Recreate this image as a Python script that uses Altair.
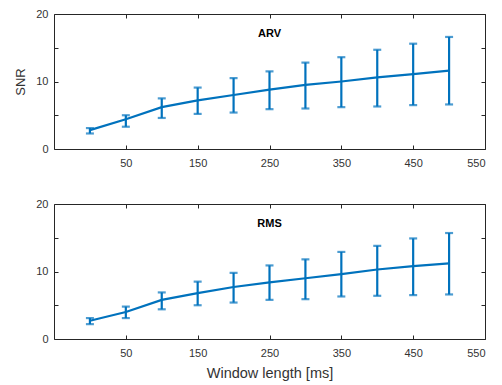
import altair as alt
import pandas as pd

# ---- data ----
window_ms = [0, 50, 100, 150, 200, 250, 300, 350, 400, 450, 500]
arv_mean = [2.8, 4.4, 6.2, 7.2, 8.0, 8.8, 9.5, 10.0, 10.6, 11.1, 11.6]
arv_low = [2.3, 3.3, 4.6, 5.2, 5.4, 5.9, 6.0, 6.2, 6.3, 6.5, 6.6]
arv_high = [3.1, 5.0, 7.5, 9.1, 10.5, 11.5, 12.8, 13.6, 14.7, 15.6, 16.6]
rms_mean = [2.7, 4.0, 5.8, 6.8, 7.7, 8.4, 9.0, 9.6, 10.3, 10.8, 11.2]
rms_low = [2.2, 3.1, 4.4, 5.0, 5.4, 5.8, 5.9, 6.3, 6.4, 6.5, 6.6]
rms_high = [3.1, 4.8, 6.9, 8.5, 9.8, 10.9, 11.8, 12.9, 13.8, 14.9, 15.7]
panel_titles = ["ARV", "RMS"]
x_ticks = [50, 150, 250, 350, 450, 550]
y_ticks = [0, 5, 10, 15, 20]
x_domain = [-50, 550]
y_domain = [0, 20]
x_title = "Window length [ms]"
y_title = "SNR"

W, H = 431, 135
BLUE = "#0072BD"
FRAME = "#262626"
TXT = "#333333"
FONT = "Liberation Sans"


def panel(mean, low, high, title, show_xtitle, show_ytitle):
    df = pd.DataFrame({"w": window_ms, "m": mean, "lo": low, "hi": high})
    xs = alt.Scale(domain=x_domain, nice=False, zero=False)
    ys = alt.Scale(domain=y_domain, nice=False, zero=False)
    base = alt.Chart(df)

    # main labelled axes
    x_main = alt.Axis(values=x_ticks, ticks=False, tickSize=0, domain=False, grid=False,
                      labelPadding=8, labelFontSize=11, labelColor=TXT, labelFont=FONT,
                      title=x_title if show_xtitle else None, titleFont=FONT, titleFontSize=14.5,
                      titleFontWeight="normal", titleColor=TXT, titlePadding=8)
    y_main = alt.Axis(values=y_ticks, ticks=False, tickSize=0, domain=False, grid=False,
                      labelExpr="datum.value % 10 == 0 ? datum.label : ''",
                      labelPadding=6, labelFontSize=11, labelColor=TXT, labelFont=FONT,
                      title=y_title if show_ytitle else None, titleFont=FONT, titleFontSize=13,
                      titleFontWeight="normal", titleColor=TXT, titlePadding=8)

    def tick_axis(values, orient, offset):
        return alt.Axis(values=values, orient=orient, offset=offset, labels=False, domain=False,
                        grid=False, ticks=True, tickSize=4, tickColor=FRAME, tickWidth=1, title=None)

    bars = base.mark_rule(color=BLUE, strokeWidth=2.2).encode(
        x=alt.X("w:Q", scale=xs, axis=x_main),
        y=alt.Y("lo:Q", scale=ys, axis=y_main),
        y2="hi:Q",
    )
    line = base.mark_line(color=BLUE, strokeWidth=2.2).encode(
        x=alt.X("w:Q", scale=xs, axis=tick_axis(x_ticks, "top", -H)),
        y=alt.Y("m:Q", scale=ys, axis=tick_axis(y_ticks, "right", -W)),
    )
    cap_lo = base.mark_tick(color=BLUE, orient="horizontal", size=8, thickness=2.2).encode(
        x=alt.X("w:Q", scale=xs, axis=tick_axis(x_ticks, "bottom", -H)),
        y=alt.Y("lo:Q", scale=ys, axis=tick_axis(y_ticks, "left", -W)),
    )
    cap_hi = base.mark_tick(color=BLUE, orient="horizontal", size=8, thickness=2.2).encode(
        x=alt.X("w:Q", scale=xs, axis=None),
        y=alt.Y("hi:Q", scale=ys, axis=None),
    )
    label = alt.Chart(pd.DataFrame({"t": [title]})).mark_text(
        font=FONT, fontSize=11, fontWeight="bold", color="#000000", baseline="middle", align="center"
    ).encode(text="t:N", x=alt.value(W / 2), y=alt.value(20))
    return alt.layer(bars, line, cap_lo, cap_hi, label).resolve_axis(
        x="independent", y="independent"
    ).properties(width=W, height=H)


top = panel(arv_mean, arv_low, arv_high, panel_titles[0], False, True)
bottom = panel(rms_mean, rms_low, rms_high, panel_titles[1], True, False)

chart = alt.vconcat(top, bottom, spacing=55, bounds="flush").properties(
    padding={"left": 6, "top": -1, "right": 5, "bottom": 3},
    background="white",
).configure_view(stroke=FRAME, strokeWidth=1)

chart.save("out.html", embed_options={"renderer": "svg", "actions": False})
